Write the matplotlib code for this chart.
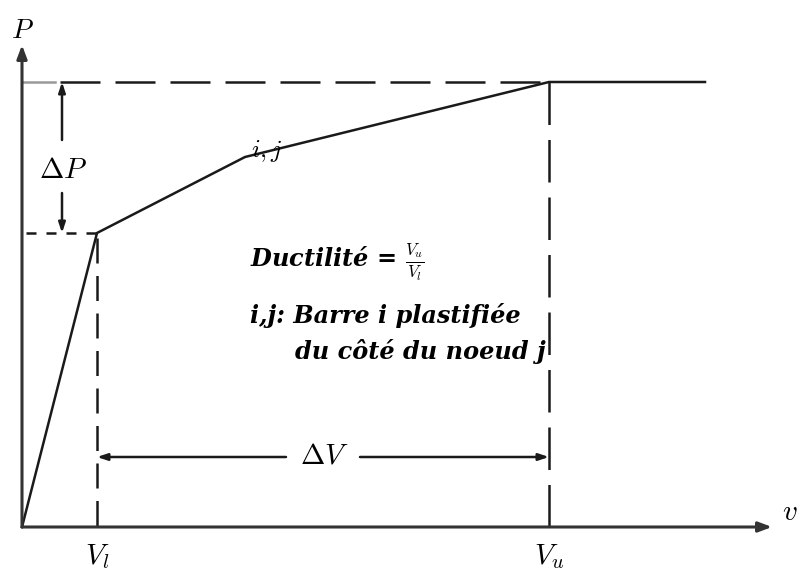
"""Load-displacement diagram: ductility definition with plastic hinge point."""

import matplotlib
matplotlib.use("Agg")
import matplotlib.pyplot as plt

plt.rcParams["mathtext.fontset"] = "cm"

# Curve vertices (displacement, load): origin, yield, hinge i,j, ultimate, plateau end
v_pts = [0, 75, 223, 527, 683]
p_pts = [0, 294, 370, 445, 445]
V_l, V_u = v_pts[1], v_pts[3]
P_l, P_u = p_pts[1], p_pts[3]
ij_label = "$i,j$"

TEXT_FONT = dict(family="DejaVu Serif", style="italic", weight="bold", fontsize=17.3)
INK = "#1a1a1a"

fig = plt.figure(figsize=(7.98, 5.72), dpi=100)
ax = fig.add_axes([0, 0, 1, 1])
ax.set_xlim(-22, 776)
ax.set_ylim(-45, 527)
ax.axis("off")

# axes with arrow heads
arrow = dict(arrowstyle="-|>,head_length=0.8,head_width=0.3", color="#333333", lw=2.2,
             shrinkA=0, shrinkB=0)
ax.annotate("", xy=(750, 0), xytext=(0, 0), arrowprops=arrow)
ax.annotate("", xy=(0, 482), xytext=(0, 0), arrowprops=arrow)
ax.text(0, 497, "$P$", ha="center", va="center", fontsize=20)
ax.text(768, 15, "$v$", ha="center", va="center", fontsize=21)

# load-displacement curve
ax.plot(v_pts, p_pts, color=INK, lw=1.8, solid_joinstyle="miter")
ax.text(245, 376, ij_label, ha="center", va="center", fontsize=18)

# reference lines
ax.plot([38, V_u], [P_u, P_u], color=INK, lw=1.8, dashes=(16, 6))
ax.plot([0, 33], [P_u, P_u], color="#999999", lw=1.8)
ax.plot([4, V_l], [P_l, P_l], color=INK, lw=1.8, dashes=(4, 4))
ax.plot([V_l, V_l], [P_l - 5, 0], color=INK, lw=1.8, dashes=(10, 5))
ax.plot([V_u, V_u], [P_u, 0], color=INK, lw=1.8, dashes=(17, 6))

# delta P arrows
small = dict(arrowstyle="-|>,head_length=0.6,head_width=0.2", color=INK, lw=1.8,
             shrinkA=0, shrinkB=0)
ax.annotate("", xy=(40, P_u), xytext=(40, 387), arrowprops=small)
ax.annotate("", xy=(40, P_l), xytext=(40, 334), arrowprops=small)
ax.text(41, 357, r"$\Delta P$", ha="center", va="center", fontsize=21)

# delta V arrows
ax.annotate("", xy=(V_l, 70), xytext=(264, 70), arrowprops=small)
ax.annotate("", xy=(V_u, 70), xytext=(338, 70), arrowprops=small)
ax.text(302, 72, r"$\Delta V$", ha="center", va="center", fontsize=21)

# displacement tick labels
ax.text(V_l, -30, "$V_l$", ha="center", va="center", fontsize=21)
ax.text(V_u, -30, "$V_u$", ha="center", va="center", fontsize=21)

# annotations
ax.text(228, 265, r"Ductilité = $\frac{V_u}{V_l}$", ha="left", va="center", **TEXT_FONT)
ax.text(228, 212, "i,j: Barre i plastifiée", ha="left", va="center", **TEXT_FONT)
ax.text(273, 175, "du côté du noeud j", ha="left", va="center", **TEXT_FONT)

fig.savefig("out.png", dpi=100)
